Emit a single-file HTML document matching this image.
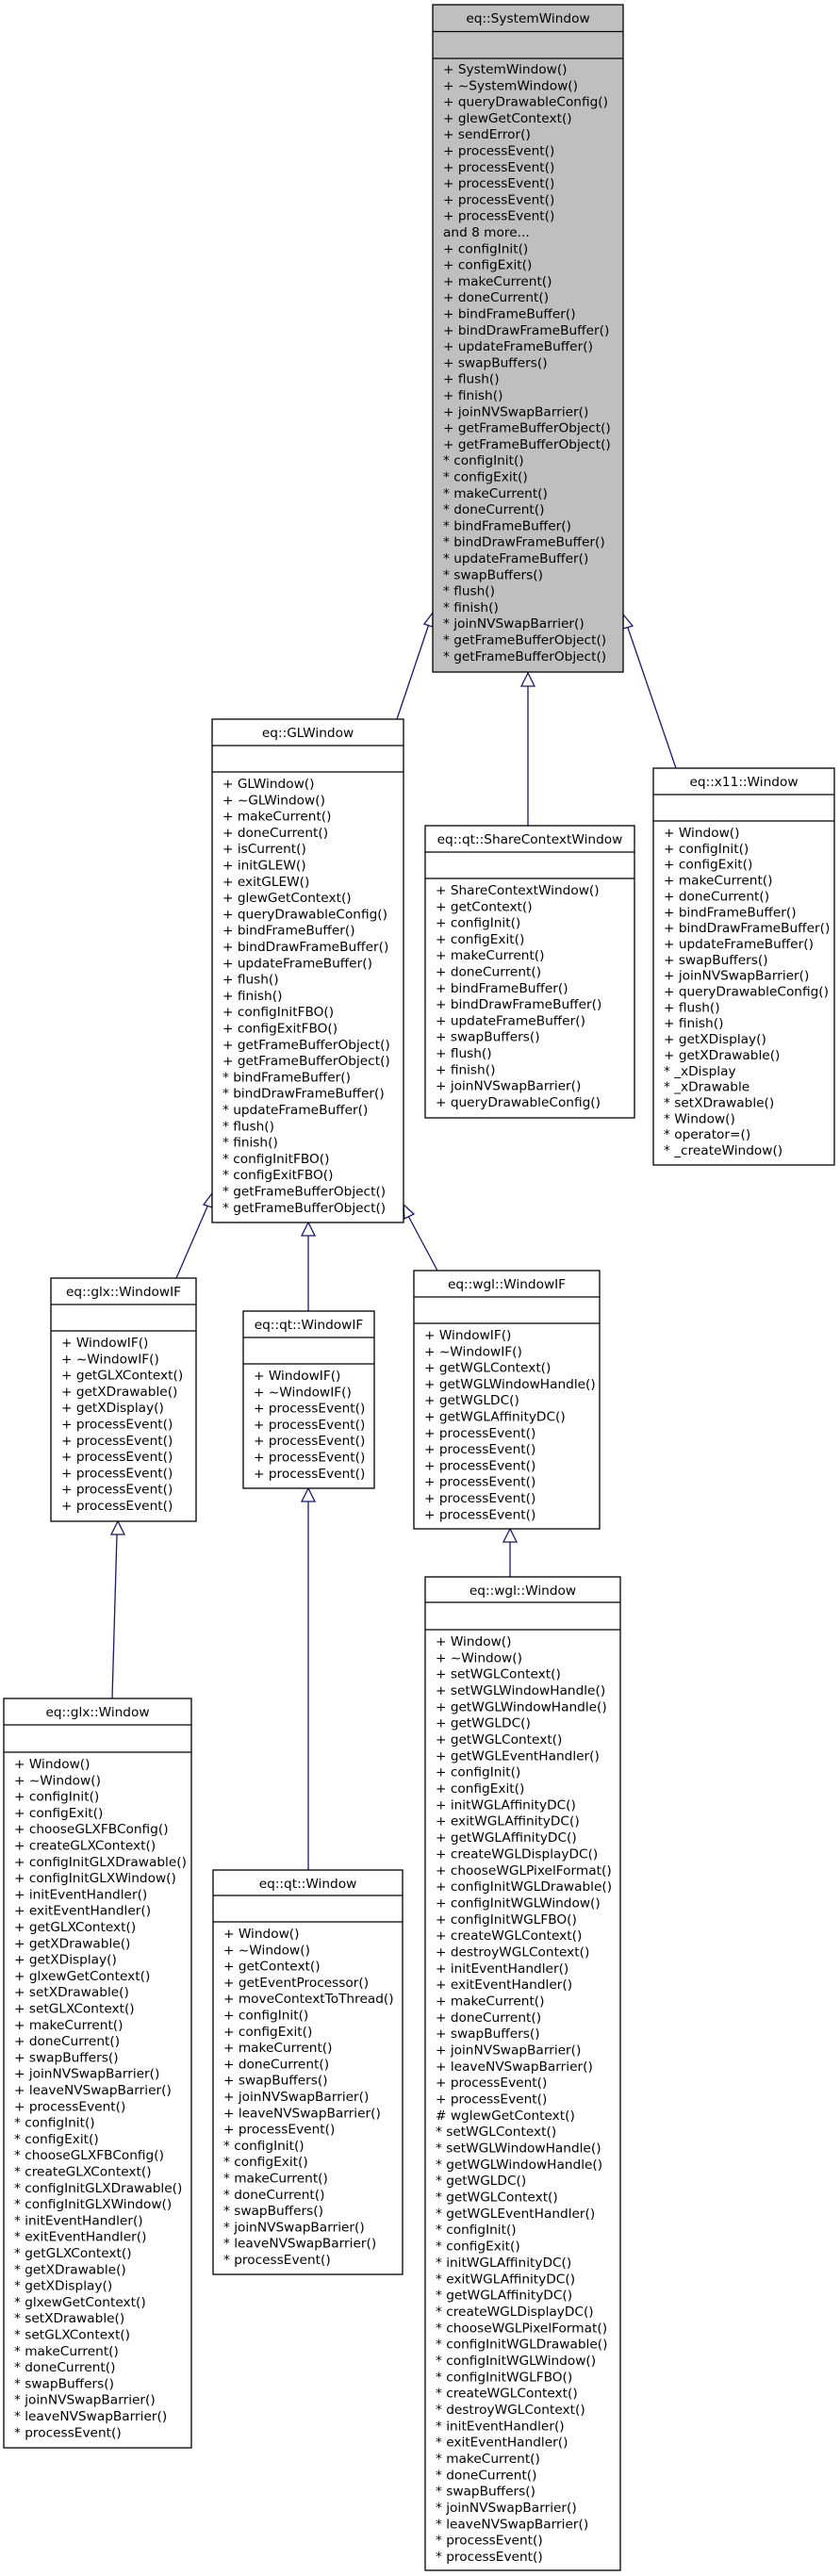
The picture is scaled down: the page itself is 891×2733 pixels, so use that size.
<!DOCTYPE html>
<html><head><meta charset="utf-8"><style>
html,body{margin:0;padding:0;background:#fff;width:891px;height:2733px;overflow:hidden}
svg{display:block}
text{font-family:"DejaVu Sans","Liberation Sans",sans-serif;font-size:13.7px;fill:#000}
.b{fill:#fff;stroke:#000;stroke-width:1.3}
.g{fill:#bfbfbf;stroke:#000;stroke-width:1.3}
.l{stroke:#000;stroke-width:1.3}
.e{stroke:#191970;stroke-width:1.3;fill:none}
.a{stroke:#191970;stroke-width:1.3;fill:#fff}
</style></head><body>
<svg width="891" height="2733" viewBox="0 0 891 2733" xmlns="http://www.w3.org/2000/svg">
<line class="e" x1="421" y1="763" x2="455" y2="662"/>
<polygon class="a" points="459,650 450,662 459,665"/>
<line class="e" x1="560" y1="876" x2="560" y2="727"/>
<polygon class="a" points="560,714 553,728 567,728"/>
<line class="e" x1="717" y1="815" x2="666" y2="666"/>
<polygon class="a" points="661,652 661,667 671,664"/>
<line class="e" x1="187" y1="1356" x2="220" y2="1280"/>
<polygon class="a" points="225,1266 216,1278 225,1281"/>
<line class="e" x1="327" y1="1391" x2="327" y2="1310"/>
<polygon class="a" points="327,1297 320,1311 334,1311"/>
<line class="e" x1="464" y1="1348" x2="433" y2="1290"/>
<polygon class="a" points="428,1278 429,1293 439,1288"/>
<line class="e" x1="119" y1="1802" x2="124" y2="1628"/>
<polygon class="a" points="125,1614 118,1628 132,1628"/>
<line class="e" x1="327" y1="1984" x2="327" y2="1593"/>
<polygon class="a" points="327,1579 320,1593 334,1593"/>
<line class="e" x1="541" y1="1673" x2="541" y2="1636"/>
<polygon class="a" points="541,1622 534,1636 548,1636"/>

<rect class="g" x="459" y="5" width="202" height="708"/>
<line class="l" x1="459" y1="33.5" x2="661" y2="33.5"/>
<line class="l" x1="459" y1="62" x2="661" y2="62"/>
<text x="560" y="24" text-anchor="middle">eq::SystemWindow</text>
<text x="470" y="78"><tspan x="470">+ SystemWindow()</tspan><tspan x="470" dy="17.3">+ ~SystemWindow()</tspan><tspan x="470" dy="17.3">+ queryDrawableConfig()</tspan><tspan x="470" dy="17.3">+ glewGetContext()</tspan><tspan x="470" dy="17.3">+ sendError()</tspan><tspan x="470" dy="17.3">+ processEvent()</tspan><tspan x="470" dy="17.3">+ processEvent()</tspan><tspan x="470" dy="17.3">+ processEvent()</tspan><tspan x="470" dy="17.3">+ processEvent()</tspan><tspan x="470" dy="17.3">+ processEvent()</tspan><tspan x="470" dy="17.3">and 8 more...</tspan><tspan x="470" dy="17.3">+ configInit()</tspan><tspan x="470" dy="17.3">+ configExit()</tspan><tspan x="470" dy="17.3">+ makeCurrent()</tspan><tspan x="470" dy="17.3">+ doneCurrent()</tspan><tspan x="470" dy="17.3">+ bindFrameBuffer()</tspan><tspan x="470" dy="17.3">+ bindDrawFrameBuffer()</tspan><tspan x="470" dy="17.3">+ updateFrameBuffer()</tspan><tspan x="470" dy="17.3">+ swapBuffers()</tspan><tspan x="470" dy="17.3">+ flush()</tspan><tspan x="470" dy="17.3">+ finish()</tspan><tspan x="470" dy="17.3">+ joinNVSwapBarrier()</tspan><tspan x="470" dy="17.3">+ getFrameBufferObject()</tspan><tspan x="470" dy="17.3">+ getFrameBufferObject()</tspan><tspan x="470" dy="17.3">* configInit()</tspan><tspan x="470" dy="17.3">* configExit()</tspan><tspan x="470" dy="17.3">* makeCurrent()</tspan><tspan x="470" dy="17.3">* doneCurrent()</tspan><tspan x="470" dy="17.3">* bindFrameBuffer()</tspan><tspan x="470" dy="17.3">* bindDrawFrameBuffer()</tspan><tspan x="470" dy="17.3">* updateFrameBuffer()</tspan><tspan x="470" dy="17.3">* swapBuffers()</tspan><tspan x="470" dy="17.3">* flush()</tspan><tspan x="470" dy="17.3">* finish()</tspan><tspan x="470" dy="17.3">* joinNVSwapBarrier()</tspan><tspan x="470" dy="17.3">* getFrameBufferObject()</tspan><tspan x="470" dy="17.3">* getFrameBufferObject()</tspan></text>

<rect class="b" x="225" y="763" width="203" height="534"/>
<line class="l" x1="225" y1="791" x2="428" y2="791"/>
<line class="l" x1="225" y1="819" x2="428" y2="819"/>
<text x="326.5" y="782" text-anchor="middle">eq::GLWindow</text>
<text x="236" y="836"><tspan x="236">+ GLWindow()</tspan><tspan x="236" dy="17.3">+ ~GLWindow()</tspan><tspan x="236" dy="17.3">+ makeCurrent()</tspan><tspan x="236" dy="17.3">+ doneCurrent()</tspan><tspan x="236" dy="17.3">+ isCurrent()</tspan><tspan x="236" dy="17.3">+ initGLEW()</tspan><tspan x="236" dy="17.3">+ exitGLEW()</tspan><tspan x="236" dy="17.3">+ glewGetContext()</tspan><tspan x="236" dy="17.3">+ queryDrawableConfig()</tspan><tspan x="236" dy="17.3">+ bindFrameBuffer()</tspan><tspan x="236" dy="17.3">+ bindDrawFrameBuffer()</tspan><tspan x="236" dy="17.3">+ updateFrameBuffer()</tspan><tspan x="236" dy="17.3">+ flush()</tspan><tspan x="236" dy="17.3">+ finish()</tspan><tspan x="236" dy="17.3">+ configInitFBO()</tspan><tspan x="236" dy="17.3">+ configExitFBO()</tspan><tspan x="236" dy="17.3">+ getFrameBufferObject()</tspan><tspan x="236" dy="17.3">+ getFrameBufferObject()</tspan><tspan x="236" dy="17.3">* bindFrameBuffer()</tspan><tspan x="236" dy="17.3">* bindDrawFrameBuffer()</tspan><tspan x="236" dy="17.3">* updateFrameBuffer()</tspan><tspan x="236" dy="17.3">* flush()</tspan><tspan x="236" dy="17.3">* finish()</tspan><tspan x="236" dy="17.3">* configInitFBO()</tspan><tspan x="236" dy="17.3">* configExitFBO()</tspan><tspan x="236" dy="17.3">* getFrameBufferObject()</tspan><tspan x="236" dy="17.3">* getFrameBufferObject()</tspan></text>

<rect class="b" x="451" y="876" width="222" height="310"/>
<line class="l" x1="451" y1="904" x2="673" y2="904"/>
<line class="l" x1="451" y1="932" x2="673" y2="932"/>
<text x="562" y="895" text-anchor="middle">eq::qt::ShareContextWindow</text>
<text x="462" y="949"><tspan x="462">+ ShareContextWindow()</tspan><tspan x="462" dy="17.3">+ getContext()</tspan><tspan x="462" dy="17.3">+ configInit()</tspan><tspan x="462" dy="17.3">+ configExit()</tspan><tspan x="462" dy="17.3">+ makeCurrent()</tspan><tspan x="462" dy="17.3">+ doneCurrent()</tspan><tspan x="462" dy="17.3">+ bindFrameBuffer()</tspan><tspan x="462" dy="17.3">+ bindDrawFrameBuffer()</tspan><tspan x="462" dy="17.3">+ updateFrameBuffer()</tspan><tspan x="462" dy="17.3">+ swapBuffers()</tspan><tspan x="462" dy="17.3">+ flush()</tspan><tspan x="462" dy="17.3">+ finish()</tspan><tspan x="462" dy="17.3">+ joinNVSwapBarrier()</tspan><tspan x="462" dy="17.3">+ queryDrawableConfig()</tspan></text>

<rect class="b" x="693" y="815" width="192" height="421"/>
<line class="l" x1="693" y1="843" x2="885" y2="843"/>
<line class="l" x1="693" y1="871" x2="885" y2="871"/>
<text x="789" y="834" text-anchor="middle">eq::x11::Window</text>
<text x="704" y="888"><tspan x="704">+ Window()</tspan><tspan x="704" dy="16.85">+ configInit()</tspan><tspan x="704" dy="16.85">+ configExit()</tspan><tspan x="704" dy="16.85">+ makeCurrent()</tspan><tspan x="704" dy="16.85">+ doneCurrent()</tspan><tspan x="704" dy="16.85">+ bindFrameBuffer()</tspan><tspan x="704" dy="16.85">+ bindDrawFrameBuffer()</tspan><tspan x="704" dy="16.85">+ updateFrameBuffer()</tspan><tspan x="704" dy="16.85">+ swapBuffers()</tspan><tspan x="704" dy="16.85">+ joinNVSwapBarrier()</tspan><tspan x="704" dy="16.85">+ queryDrawableConfig()</tspan><tspan x="704" dy="16.85">+ flush()</tspan><tspan x="704" dy="16.85">+ finish()</tspan><tspan x="704" dy="16.85">+ getXDisplay()</tspan><tspan x="704" dy="16.85">+ getXDrawable()</tspan><tspan x="704" dy="16.85">* _xDisplay</tspan><tspan x="704" dy="16.85">* _xDrawable</tspan><tspan x="704" dy="16.85">* setXDrawable()</tspan><tspan x="704" dy="16.85">* Window()</tspan><tspan x="704" dy="16.85">* operator=()</tspan><tspan x="704" dy="16.85">* _createWindow()</tspan></text>

<rect class="b" x="54" y="1356" width="154" height="258"/>
<line class="l" x1="54" y1="1384" x2="208" y2="1384"/>
<line class="l" x1="54" y1="1412" x2="208" y2="1412"/>
<text x="131" y="1375" text-anchor="middle">eq::glx::WindowIF</text>
<text x="65" y="1429"><tspan x="65">+ WindowIF()</tspan><tspan x="65" dy="17.3">+ ~WindowIF()</tspan><tspan x="65" dy="17.3">+ getGLXContext()</tspan><tspan x="65" dy="17.3">+ getXDrawable()</tspan><tspan x="65" dy="17.3">+ getXDisplay()</tspan><tspan x="65" dy="17.3">+ processEvent()</tspan><tspan x="65" dy="17.3">+ processEvent()</tspan><tspan x="65" dy="17.3">+ processEvent()</tspan><tspan x="65" dy="17.3">+ processEvent()</tspan><tspan x="65" dy="17.3">+ processEvent()</tspan><tspan x="65" dy="17.3">+ processEvent()</tspan></text>

<rect class="b" x="258" y="1391" width="139" height="188"/>
<line class="l" x1="258" y1="1419" x2="397" y2="1419"/>
<line class="l" x1="258" y1="1447" x2="397" y2="1447"/>
<text x="327.5" y="1410" text-anchor="middle">eq::qt::WindowIF</text>
<text x="269" y="1464"><tspan x="269">+ WindowIF()</tspan><tspan x="269" dy="17.3">+ ~WindowIF()</tspan><tspan x="269" dy="17.3">+ processEvent()</tspan><tspan x="269" dy="17.3">+ processEvent()</tspan><tspan x="269" dy="17.3">+ processEvent()</tspan><tspan x="269" dy="17.3">+ processEvent()</tspan><tspan x="269" dy="17.3">+ processEvent()</tspan></text>

<rect class="b" x="439" y="1348" width="197" height="274"/>
<line class="l" x1="439" y1="1376" x2="636" y2="1376"/>
<line class="l" x1="439" y1="1404" x2="636" y2="1404"/>
<text x="537.5" y="1367" text-anchor="middle">eq::wgl::WindowIF</text>
<text x="450" y="1421"><tspan x="450">+ WindowIF()</tspan><tspan x="450" dy="17.3">+ ~WindowIF()</tspan><tspan x="450" dy="17.3">+ getWGLContext()</tspan><tspan x="450" dy="17.3">+ getWGLWindowHandle()</tspan><tspan x="450" dy="17.3">+ getWGLDC()</tspan><tspan x="450" dy="17.3">+ getWGLAffinityDC()</tspan><tspan x="450" dy="17.3">+ processEvent()</tspan><tspan x="450" dy="17.3">+ processEvent()</tspan><tspan x="450" dy="17.3">+ processEvent()</tspan><tspan x="450" dy="17.3">+ processEvent()</tspan><tspan x="450" dy="17.3">+ processEvent()</tspan><tspan x="450" dy="17.3">+ processEvent()</tspan></text>

<rect class="b" x="4" y="1802" width="199" height="795"/>
<line class="l" x1="4" y1="1830" x2="203" y2="1830"/>
<line class="l" x1="4" y1="1859" x2="203" y2="1859"/>
<text x="103.5" y="1821" text-anchor="middle">eq::glx::Window</text>
<text x="15" y="1876"><tspan x="15">+ Window()</tspan><tspan x="15" dy="17.3">+ ~Window()</tspan><tspan x="15" dy="17.3">+ configInit()</tspan><tspan x="15" dy="17.3">+ configExit()</tspan><tspan x="15" dy="17.3">+ chooseGLXFBConfig()</tspan><tspan x="15" dy="17.3">+ createGLXContext()</tspan><tspan x="15" dy="17.3">+ configInitGLXDrawable()</tspan><tspan x="15" dy="17.3">+ configInitGLXWindow()</tspan><tspan x="15" dy="17.3">+ initEventHandler()</tspan><tspan x="15" dy="17.3">+ exitEventHandler()</tspan><tspan x="15" dy="17.3">+ getGLXContext()</tspan><tspan x="15" dy="17.3">+ getXDrawable()</tspan><tspan x="15" dy="17.3">+ getXDisplay()</tspan><tspan x="15" dy="17.3">+ glxewGetContext()</tspan><tspan x="15" dy="17.3">+ setXDrawable()</tspan><tspan x="15" dy="17.3">+ setGLXContext()</tspan><tspan x="15" dy="17.3">+ makeCurrent()</tspan><tspan x="15" dy="17.3">+ doneCurrent()</tspan><tspan x="15" dy="17.3">+ swapBuffers()</tspan><tspan x="15" dy="17.3">+ joinNVSwapBarrier()</tspan><tspan x="15" dy="17.3">+ leaveNVSwapBarrier()</tspan><tspan x="15" dy="17.3">+ processEvent()</tspan><tspan x="15" dy="17.3">* configInit()</tspan><tspan x="15" dy="17.3">* configExit()</tspan><tspan x="15" dy="17.3">* chooseGLXFBConfig()</tspan><tspan x="15" dy="17.3">* createGLXContext()</tspan><tspan x="15" dy="17.3">* configInitGLXDrawable()</tspan><tspan x="15" dy="17.3">* configInitGLXWindow()</tspan><tspan x="15" dy="17.3">* initEventHandler()</tspan><tspan x="15" dy="17.3">* exitEventHandler()</tspan><tspan x="15" dy="17.3">* getGLXContext()</tspan><tspan x="15" dy="17.3">* getXDrawable()</tspan><tspan x="15" dy="17.3">* getXDisplay()</tspan><tspan x="15" dy="17.3">* glxewGetContext()</tspan><tspan x="15" dy="17.3">* setXDrawable()</tspan><tspan x="15" dy="17.3">* setGLXContext()</tspan><tspan x="15" dy="17.3">* makeCurrent()</tspan><tspan x="15" dy="17.3">* doneCurrent()</tspan><tspan x="15" dy="17.3">* swapBuffers()</tspan><tspan x="15" dy="17.3">* joinNVSwapBarrier()</tspan><tspan x="15" dy="17.3">* leaveNVSwapBarrier()</tspan><tspan x="15" dy="17.3">* processEvent()</tspan></text>

<rect class="b" x="226" y="1984" width="201" height="429"/>
<line class="l" x1="226" y1="2011" x2="427" y2="2011"/>
<line class="l" x1="226" y1="2039" x2="427" y2="2039"/>
<text x="326.5" y="2003" text-anchor="middle">eq::qt::Window</text>
<text x="237" y="2056"><tspan x="237">+ Window()</tspan><tspan x="237" dy="17.3">+ ~Window()</tspan><tspan x="237" dy="17.3">+ getContext()</tspan><tspan x="237" dy="17.3">+ getEventProcessor()</tspan><tspan x="237" dy="17.3">+ moveContextToThread()</tspan><tspan x="237" dy="17.3">+ configInit()</tspan><tspan x="237" dy="17.3">+ configExit()</tspan><tspan x="237" dy="17.3">+ makeCurrent()</tspan><tspan x="237" dy="17.3">+ doneCurrent()</tspan><tspan x="237" dy="17.3">+ swapBuffers()</tspan><tspan x="237" dy="17.3">+ joinNVSwapBarrier()</tspan><tspan x="237" dy="17.3">+ leaveNVSwapBarrier()</tspan><tspan x="237" dy="17.3">+ processEvent()</tspan><tspan x="237" dy="17.3">* configInit()</tspan><tspan x="237" dy="17.3">* configExit()</tspan><tspan x="237" dy="17.3">* makeCurrent()</tspan><tspan x="237" dy="17.3">* doneCurrent()</tspan><tspan x="237" dy="17.3">* swapBuffers()</tspan><tspan x="237" dy="17.3">* joinNVSwapBarrier()</tspan><tspan x="237" dy="17.3">* leaveNVSwapBarrier()</tspan><tspan x="237" dy="17.3">* processEvent()</tspan></text>

<rect class="b" x="451" y="1673" width="207" height="1054"/>
<line class="l" x1="451" y1="1700" x2="658" y2="1700"/>
<line class="l" x1="451" y1="1729" x2="658" y2="1729"/>
<text x="554.5" y="1692" text-anchor="middle">eq::wgl::Window</text>
<text x="462" y="1746"><tspan x="462">+ Window()</tspan><tspan x="462" dy="17.34">+ ~Window()</tspan><tspan x="462" dy="17.34">+ setWGLContext()</tspan><tspan x="462" dy="17.34">+ setWGLWindowHandle()</tspan><tspan x="462" dy="17.34">+ getWGLWindowHandle()</tspan><tspan x="462" dy="17.34">+ getWGLDC()</tspan><tspan x="462" dy="17.34">+ getWGLContext()</tspan><tspan x="462" dy="17.34">+ getWGLEventHandler()</tspan><tspan x="462" dy="17.34">+ configInit()</tspan><tspan x="462" dy="17.34">+ configExit()</tspan><tspan x="462" dy="17.34">+ initWGLAffinityDC()</tspan><tspan x="462" dy="17.34">+ exitWGLAffinityDC()</tspan><tspan x="462" dy="17.34">+ getWGLAffinityDC()</tspan><tspan x="462" dy="17.34">+ createWGLDisplayDC()</tspan><tspan x="462" dy="17.34">+ chooseWGLPixelFormat()</tspan><tspan x="462" dy="17.34">+ configInitWGLDrawable()</tspan><tspan x="462" dy="17.34">+ configInitWGLWindow()</tspan><tspan x="462" dy="17.34">+ configInitWGLFBO()</tspan><tspan x="462" dy="17.34">+ createWGLContext()</tspan><tspan x="462" dy="17.34">+ destroyWGLContext()</tspan><tspan x="462" dy="17.34">+ initEventHandler()</tspan><tspan x="462" dy="17.34">+ exitEventHandler()</tspan><tspan x="462" dy="17.34">+ makeCurrent()</tspan><tspan x="462" dy="17.34">+ doneCurrent()</tspan><tspan x="462" dy="17.34">+ swapBuffers()</tspan><tspan x="462" dy="17.34">+ joinNVSwapBarrier()</tspan><tspan x="462" dy="17.34">+ leaveNVSwapBarrier()</tspan><tspan x="462" dy="17.34">+ processEvent()</tspan><tspan x="462" dy="17.34">+ processEvent()</tspan><tspan x="462" dy="17.34"># wglewGetContext()</tspan><tspan x="462" dy="17.34">* setWGLContext()</tspan><tspan x="462" dy="17.34">* setWGLWindowHandle()</tspan><tspan x="462" dy="17.34">* getWGLWindowHandle()</tspan><tspan x="462" dy="17.34">* getWGLDC()</tspan><tspan x="462" dy="17.34">* getWGLContext()</tspan><tspan x="462" dy="17.34">* getWGLEventHandler()</tspan><tspan x="462" dy="17.34">* configInit()</tspan><tspan x="462" dy="17.34">* configExit()</tspan><tspan x="462" dy="17.34">* initWGLAffinityDC()</tspan><tspan x="462" dy="17.34">* exitWGLAffinityDC()</tspan><tspan x="462" dy="17.34">* getWGLAffinityDC()</tspan><tspan x="462" dy="17.34">* createWGLDisplayDC()</tspan><tspan x="462" dy="17.34">* chooseWGLPixelFormat()</tspan><tspan x="462" dy="17.34">* configInitWGLDrawable()</tspan><tspan x="462" dy="17.34">* configInitWGLWindow()</tspan><tspan x="462" dy="17.34">* configInitWGLFBO()</tspan><tspan x="462" dy="17.34">* createWGLContext()</tspan><tspan x="462" dy="17.34">* destroyWGLContext()</tspan><tspan x="462" dy="17.34">* initEventHandler()</tspan><tspan x="462" dy="17.34">* exitEventHandler()</tspan><tspan x="462" dy="17.34">* makeCurrent()</tspan><tspan x="462" dy="17.34">* doneCurrent()</tspan><tspan x="462" dy="17.34">* swapBuffers()</tspan><tspan x="462" dy="17.34">* joinNVSwapBarrier()</tspan><tspan x="462" dy="17.34">* leaveNVSwapBarrier()</tspan><tspan x="462" dy="17.34">* processEvent()</tspan><tspan x="462" dy="17.34">* processEvent()</tspan></text>
</svg>
</body></html>
